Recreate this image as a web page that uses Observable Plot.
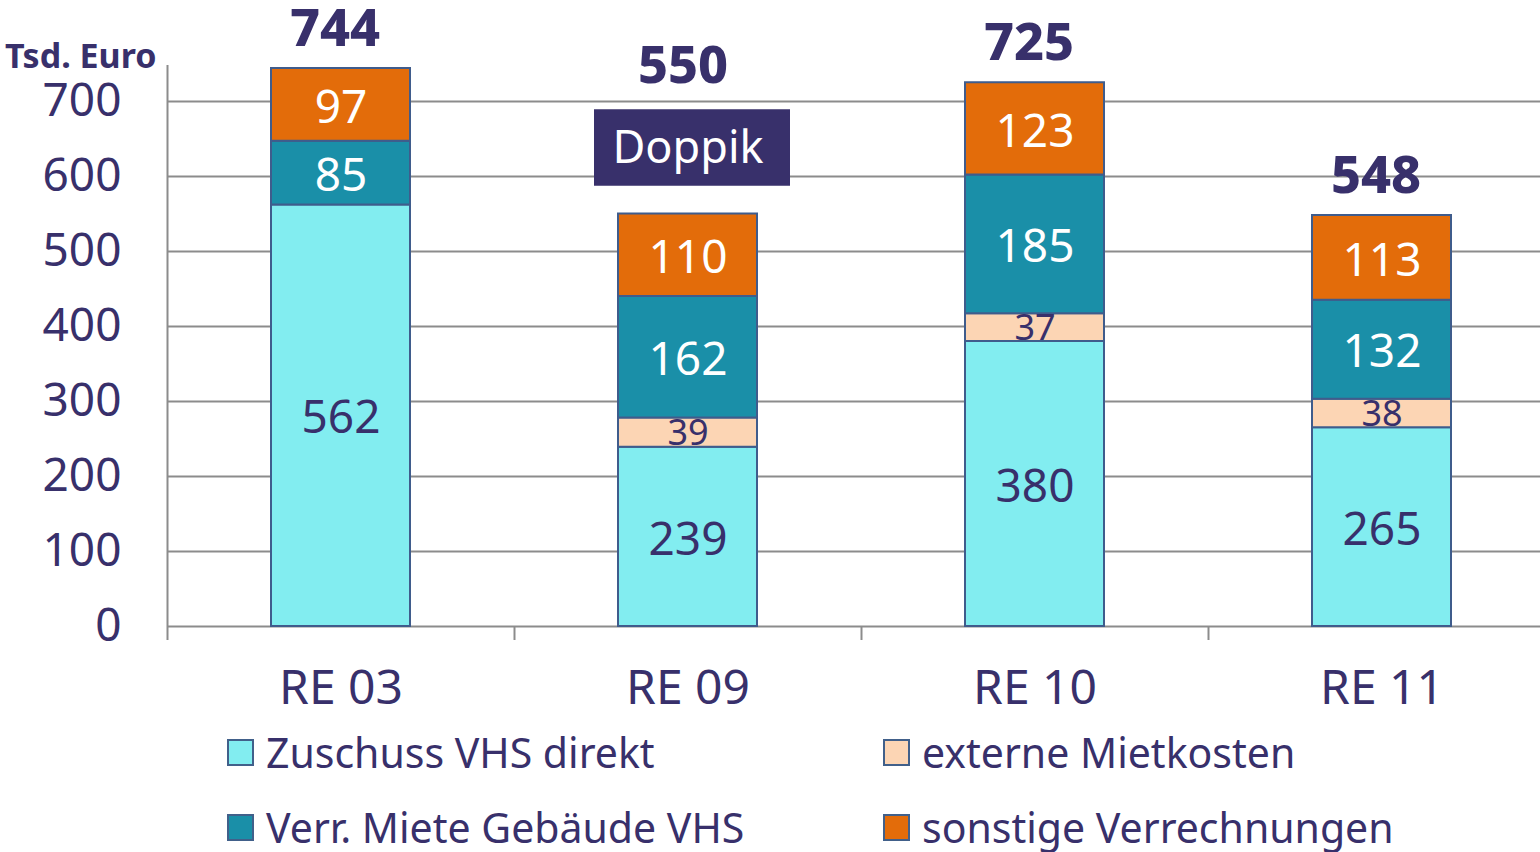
<!DOCTYPE html>
<html>
<head>
<meta charset="utf-8">
<script src="https://cdn.jsdelivr.net/npm/d3@7"></script>
<script src="https://cdn.jsdelivr.net/npm/@observablehq/plot@0.6"></script>
<style>
  html, body { margin: 0; padding: 0; background: #fff; overflow: hidden; }
  body { width: 1540px; height: 852px; position: relative; font-family: "Noto Sans", sans-serif; color: #38306B; }
  #chart { position: absolute; left: 0; top: 0; }
  .unit { position: absolute; left: 5px; top: 32px; font-size: 34px; font-weight: 700; white-space: nowrap; }
  .leg { position: absolute; display: flex; align-items: center; font-size: 41px; white-space: nowrap; }
  .sw { width: 23px; height: 23px; border: 2px solid #41608a; margin-right: 12px; }
</style>
</head>
<body>
<div id="chart"></div>
<div class="unit">Tsd. Euro</div>
<div id="legend"></div>
<script>
const categories = ["RE 03", "RE 09", "RE 10", "RE 11"];
const series = ["Zuschuss VHS direkt", "externe Mietkosten", "Verr. Miete Gebäude VHS", "sonstige Verrechnungen"];
const zuschuss = [562, 239, 380, 265];
const externe  = [0, 39, 37, 38];
const verrMiete = [85, 162, 185, 132];
const sonstige = [97, 110, 123, 113];
const totals = [744, 550, 725, 548];
const yTicks = [0, 100, 200, 300, 400, 500, 600, 700];
const colors = ["#82EDF0", "#FCD5B4", "#1A8FA8", "#E36C0A"];
const labelColors = ["#38306B", "#38306B", "#ffffff", "#ffffff"];
const legendOrder = [0, 1, 2, 3];
const annotation = [{x: "RE 09", y1: 587, y2: 689, label: "Doppik"}];

const navy = "#38306B";
const grey = "#8c8c8c";

const valuesBySeries = [zuschuss, externe, verrMiete, sonstige];
const rows = [];
categories.forEach((c, i) => {
  let base = 0;
  series.forEach((s, k) => {
    const v = valuesBySeries[k][i];
    if (v > 0) {
      rows.push({cat: c, series: s, k, value: v, y1: base, y2: base + v, mid: base + v / 2});
    }
    base += v;
  });
});
const totalRows = categories.map((c, i) => ({cat: c, total: totals[i]}));

const xRange = [167, 1555];
const step = (xRange[1] - xRange[0]) / categories.length;

const chart = Plot.plot({
  width: 1540,
  height: 720,
  marginLeft: 167,
  marginRight: 0,
  marginTop: 0,
  marginBottom: 94,
  style: {fontFamily: "Noto Sans, sans-serif", color: navy, background: "transparent", overflow: "visible"},
  x: {domain: categories, range: xRange, paddingInner: 0.6, paddingOuter: 0.3, label: null},
  y: {domain: [0, 748], range: [626, 65], label: null},
  color: {domain: series, range: colors},
  marks: [
    Plot.ruleY(yTicks.filter(d => d > 0), {stroke: grey, strokeWidth: 2}),
    Plot.ruleY([0], {stroke: grey, strokeWidth: 2}),
    Plot.ruleX([categories[0]], {x: d => d, dx: -step / 2, y1: 748, y2: 0, stroke: grey, strokeWidth: 2, insetBottom: -14}),
    Plot.ruleX(categories.slice(1), {x: d => d, dx: -step / 2, y1: 0, y2: 0, stroke: grey, strokeWidth: 2, insetBottom: -14}),
    Plot.axisY({ticks: yTicks, tickSize: 0, tickPadding: 46, fontSize: 46, label: null}),
    Plot.axisX({tickSize: 0, tickPadding: 43, fontSize: 48, label: null}),
    Plot.rectY(rows, {x: "cat", y1: "y1", y2: "y2", fill: d => colors[d.k], stroke: "#3F5C8C", strokeWidth: 2}),
    Plot.text(rows.filter(d => d.k !== 1), {x: "cat", y: "mid", text: d => String(d.value), fill: d => labelColors[d.k], fontSize: 46, dy: 3}),
    Plot.text(rows.filter(d => d.k === 1), {x: "cat", y: "mid", text: d => String(d.value), fill: d => labelColors[d.k], fontSize: 36, dy: 1}),
    Plot.text(totalRows.filter(d => d.cat !== "RE 09"), {x: "cat", y: "total", text: d => String(d.total), dx: -6, dy: -39, fill: navy, fontSize: 52, fontWeight: 800}),
    Plot.text(totalRows.filter(d => d.cat === "RE 09"), {x: "cat", y: "total", text: d => String(d.total), dx: -5, dy: -148, fill: navy, fontSize: 52, fontWeight: 800}),
    Plot.rectY(annotation, {x: "x", y1: "y1", y2: "y2", fill: navy, insetLeft: -24, insetRight: -33}),
    Plot.text(annotation, {x: "x", y: d => (d.y1 + d.y2) / 2, text: "label", fill: "#fff", fontSize: 45, dx: 0, dy: 1})
  ]
});
document.getElementById("chart").appendChild(chart);

const legendPos = [{left: 227, top: 754}, {left: 883, top: 754}, {left: 227, top: 829}, {left: 883, top: 829}];
const legend = document.getElementById("legend");
legendOrder.forEach((k, j) => {
  const item = document.createElement("div");
  item.className = "leg";
  item.style.left = legendPos[j].left + "px";
  item.style.top = (legendPos[j].top - 29) + "px";
  item.style.height = "54px";
  const sw = document.createElement("div");
  sw.className = "sw";
  sw.style.background = colors[k];
  const t = document.createElement("span");
  t.textContent = series[k];
  item.appendChild(sw);
  item.appendChild(t);
  legend.appendChild(item);
});
</script>
</body>
</html>
